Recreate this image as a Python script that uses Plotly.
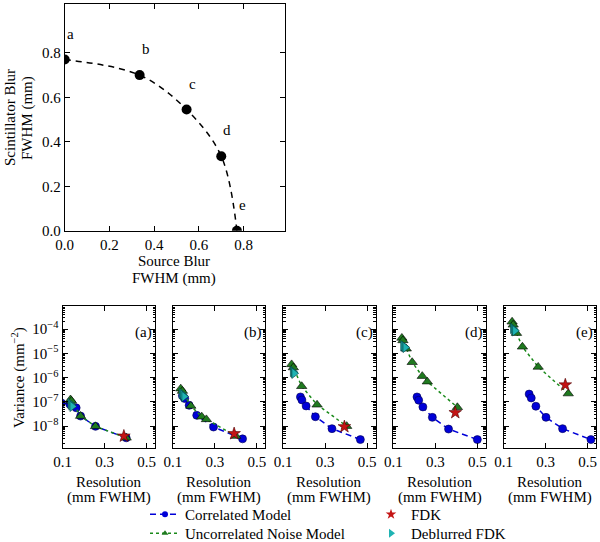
import plotly.graph_objects as go

# ---------------- data ----------------
# top panel: blur trade-off
source_blur = [0.0, 0.335, 0.545, 0.70, 0.77]
scint_blur = [0.77, 0.70, 0.545, 0.335, 0.0]
point_labels = ["a", "b", "c", "d", "e"]

panel_tags = ["(a)", "(b)", "(c)", "(d)", "(e)"]

# Correlated model (resolution mm FWHM, variance mm^-2)
corr_res = [
    [0.095, 0.135, 0.165, 0.186, 0.257, 0.403],
    [0.146, 0.157, 0.178, 0.214, 0.294, 0.432],
    [0.183, 0.190, 0.210, 0.254, 0.333, 0.468],
    [0.213, 0.221, 0.241, 0.286, 0.363, 0.500],
    [0.222, 0.232, 0.254, 0.302, 0.381, 0.516],
]
corr_var = [
    [9.0e-8, 8.0e-8, 5.7e-8, 2.6e-8, 9.8e-9, 3.3e-9],
    [1.8e-7, 1.37e-7, 7.2e-8, 2.8e-8, 9.2e-9, 3.0e-9],
    [1.6e-7, 1.2e-7, 6.8e-8, 2.45e-8, 7.9e-9, 2.8e-9],
    [1.6e-7, 1.17e-7, 6.2e-8, 2.3e-8, 7.6e-9, 2.8e-9],
    [2.1e-7, 1.45e-7, 6.6e-8, 2.3e-8, 7.9e-9, 2.8e-9],
]

# Uncorrelated noise model
unc_res = [
    [0.138, 0.143, 0.186, 0.257, 0.403],
    [0.138, 0.146, 0.186, 0.238, 0.260, 0.400],
    [0.141, 0.149, 0.189, 0.262, 0.403],
    [0.141, 0.146, 0.162, 0.190, 0.238, 0.262, 0.405],
    [0.141, 0.146, 0.162, 0.190, 0.265, 0.408],
]
unc_var = [
    [1.25e-7, 1.1e-7, 2.6e-8, 9.8e-9, 3.3e-9],
    [3.5e-7, 2.8e-7, 6.8e-8, 2.45e-8, 1.9e-8, 3.9e-9],
    [3.5e-6, 2.6e-6, 4.4e-7, 7.6e-8, 1.0e-8],
    [4.3e-5, 3.4e-5, 1.55e-5, 4.3e-6, 1.15e-6, 6.8e-7, 6.0e-8],
    [2.0e-4, 1.5e-4, 6.8e-5, 1.86e-5, 2.75e-6, 2.2e-7],
]

# FDK
fdk_res = [0.392, 0.392, 0.392, 0.395, 0.394]
fdk_var = [3.9e-9, 4.9e-9, 9.5e-9, 3.6e-8, 5.0e-7]

# Deblurred FDK
dfdk_res = [
    [0.137, 0.141, 0.146],
    [0.142, 0.148, 0.154],
    [0.146, 0.150, 0.153],
    [0.146, 0.152, 0.157],
    [0.144, 0.149, 0.154],
]
dfdk_var = [
    [8.5e-8, 7.5e-8, 6.5e-8],
    [2.2e-7, 1.9e-7, 1.65e-7],
    [1.8e-6, 1.65e-6, 1.5e-6],
    [2.05e-5, 1.9e-5, 1.75e-5],
    [1.07e-4, 9.5e-5, 8.5e-5],
]

res_ticks = [0.1, 0.3, 0.5]
var_decades = [1e-8, 1e-7, 1e-6, 1e-5, 1e-4]
var_decade_text = ["10<sup>\u22128</sup>", "10<sup>\u22127</sup>", "10<sup>\u22126</sup>",
                   "10<sup>\u22125</sup>", "10<sup>\u22124</sup>"]
var_minor = [m * 10.0 ** k for k in range(-9, -3) for m in range(2, 10)]

# ---------------- style ----------------
FONT = "Liberation Serif"
FS = 15
W, H = 600, 542
BLUE = "#0000d8"
GREEN = "#1f7a1f"
GREEN_LINE = "#1a8a1a"
CYAN = "#1fb3b3"
RED = "#c41414"


def px_x(p):
    return p / W


def px_y(p):
    return 1 - p / H


fig = go.Figure()

# top panel
fig.add_trace(go.Scatter(
    x=source_blur, y=scint_blur, mode="lines+markers",
    line=dict(color="black", width=1.5, dash="6px,5px", shape="spline"),
    marker=dict(color="black", size=10),
    xaxis="x", yaxis="y", showlegend=False,
))

axis_common = dict(
    showline=True, linecolor="black", linewidth=1, mirror="allticks",
    ticks="inside", ticklen=5, tickcolor="black", showgrid=False, zeroline=False,
    automargin=False,
    tickfont=dict(family=FONT, size=FS, color="black"),
)

layout = dict(
    template="none",
    width=W, height=H, margin=dict(l=0, r=0, t=0, b=0, autoexpand=False),
    paper_bgcolor="white", plot_bgcolor="white",
    font=dict(family=FONT, size=FS, color="black"),
    xaxis=dict(domain=[px_x(64.7), px_x(285)], range=[0, 0.985], anchor="y",
               tickvals=[0, 0.2, 0.4, 0.6, 0.8], tickformat=".1f", **axis_common),
    yaxis=dict(domain=[px_y(230.7), px_y(4)], range=[0, 1.02], anchor="x",
               tickvals=[0, 0.2, 0.4, 0.6, 0.8], tickformat=".1f", **axis_common),
)


def paper_text(xp, yp, text, angle=0):
    return dict(x=px_x(xp), y=px_y(yp), xref="paper", yref="paper", text=text,
                textangle=angle, showarrow=False, xanchor="center", yanchor="middle",
                font=dict(size=FS))


annotations = []
for sx, sy, lab in zip(source_blur, scint_blur, point_labels):
    annotations.append(dict(x=sx, y=sy, xref="x", yref="y", text=lab, showarrow=False,
                            xanchor="center", yanchor="middle",
                            xshift=6, yshift=26, font=dict(size=FS)))

annotations += [
    paper_text(9.5, 117.5, "Scintillator Blur", -90),
    paper_text(27.5, 117.5, "FWHM (mm)", -90),
    paper_text(174, 261, "Source Blur"),
    paper_text(174, 278, "FWHM (mm)"),
    paper_text(18, 378, "Variance (mm<sup>\u22122</sup>)", -90),
]

top_px, bot_px = 306, 448
for i in range(5):
    n = i + 2
    xa, ya = f"x{n}", f"y{n}"
    left = 62.5 + 110.25 * i
    right = left + 92.5
    layout[f"xaxis{n}"] = dict(domain=[px_x(left), px_x(right)], range=[0.1, 0.54],
                               anchor=ya, tickvals=res_ticks, tickformat=".1f",
                               **axis_common)
    layout[f"yaxis{n}"] = dict(
        domain=[px_y(bot_px), px_y(top_px)], type="log", range=[-8.9, -3.05],
        anchor=xa, tickvals=var_decades, ticktext=var_decade_text,
        showticklabels=(i == 0),
        minor=dict(ticks="inside", ticklen=2.5, tickcolor="black",
                   tickvals=var_minor, showgrid=False),
        **axis_common)

    fig.add_trace(go.Scatter(
        x=corr_res[i], y=corr_var[i], mode="lines+markers",
        line=dict(color=BLUE, width=1.5, dash="6px,4px"),
        marker=dict(color=BLUE, size=8, line=dict(color="#000050", width=0.6)),
        xaxis=xa, yaxis=ya, showlegend=False))
    fig.add_trace(go.Scatter(
        x=unc_res[i], y=unc_var[i], mode="lines+markers",
        line=dict(color=GREEN_LINE, width=1.5, dash="dot"),
        marker=dict(color=GREEN, size=9, symbol="triangle-up",
                    line=dict(color="black", width=0.6)),
        xaxis=xa, yaxis=ya, showlegend=False))
    fig.add_trace(go.Scatter(
        x=[fdk_res[i]], y=[fdk_var[i]], mode="markers",
        marker=dict(color=RED, size=9.5, symbol="star", line=dict(color="#500000", width=0.6)),
        xaxis=xa, yaxis=ya, showlegend=False))
    fig.add_trace(go.Scatter(
        x=dfdk_res[i], y=dfdk_var[i], mode="markers",
        marker=dict(color=CYAN, size=9, symbol="triangle-right",
                    line=dict(color="#004040", width=0.6)),
        xaxis=xa, yaxis=ya, showlegend=False))

    cx = (left + right) / 2
    annotations.append(dict(x=1, y=1 - 26 / (bot_px - top_px), xref=f"{xa} domain",
                            yref=f"{ya} domain", text=panel_tags[i], showarrow=False,
                            xanchor="right", yanchor="middle", xshift=-1,
                            font=dict(size=FS)))
    annotations.append(paper_text(cx, 482, "Resolution"))
    annotations.append(paper_text(cx, 497, "(mm FWHM)"))

# legend-only entries, one legend box each (2 x 2 arrangement)
fig.add_trace(go.Scatter(x=[None], y=[None], mode="lines+markers", name="Correlated Model",
                         line=dict(color=BLUE, width=1.5, dash="6px,4px"),
                         marker=dict(color=BLUE, size=6), xaxis="x2", yaxis="y2",
                         legend="legend"))
fig.add_trace(go.Scatter(x=[None], y=[None], mode="lines+markers",
                         name="Uncorrelated Noise Model",
                         line=dict(color=GREEN_LINE, width=1.5, dash="dot"),
                         marker=dict(color=GREEN, size=6, symbol="triangle-up"),
                         xaxis="x2", yaxis="y2", legend="legend2"))
fig.add_trace(go.Scatter(x=[None], y=[None], mode="markers", name="FDK",
                         marker=dict(color=RED, size=8, symbol="star"),
                         xaxis="x2", yaxis="y2", legend="legend3"))
fig.add_trace(go.Scatter(x=[None], y=[None], mode="markers", name="Deblurred FDK",
                         marker=dict(color=CYAN, size=8, symbol="triangle-right"),
                         xaxis="x2", yaxis="y2", legend="legend4"))

legend_common = dict(bgcolor="rgba(0,0,0,0)", borderwidth=0, yanchor="top",
                     xanchor="left", orientation="v", tracegroupgap=0,
                     font=dict(family=FONT, size=FS, color="black"))
layout["legend"] = dict(x=px_x(145), y=px_y(498), **legend_common)
layout["legend2"] = dict(x=px_x(145), y=px_y(517), **legend_common)
layout["legend3"] = dict(x=px_x(371), y=px_y(498), **legend_common)
layout["legend4"] = dict(x=px_x(371), y=px_y(517), **legend_common)
layout["annotations"] = annotations

fig.update_layout(**layout)
fig.write_html("out.html", config={"displayModeBar": False},
               post_script="document.body.style.margin='0';document.body.style.overflow='hidden';")
